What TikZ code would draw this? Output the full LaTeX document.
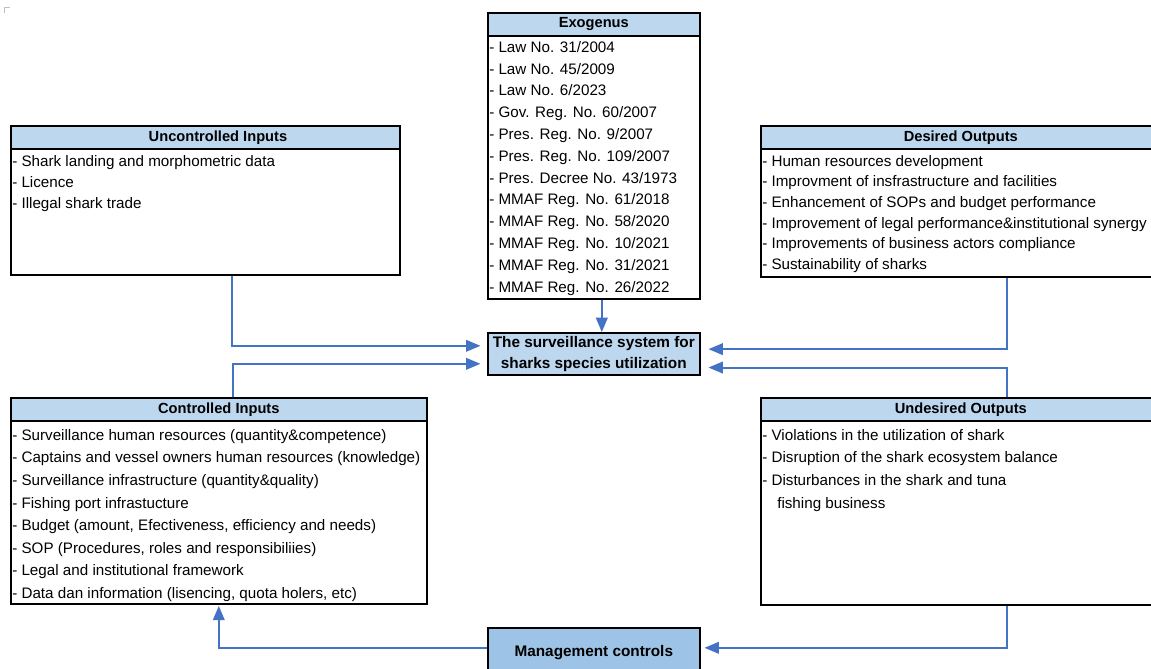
\documentclass[tikz,border=0pt]{standalone}
\usepackage{fontspec}
\setmainfont{Liberation Sans}
\usetikzlibrary{arrows, calc, positioning}

\definecolor{headblue}{HTML}{BDD7EE}
\definecolor{coreblue}{HTML}{BDD7EE}
\definecolor{ctrlblue}{HTML}{9DC3E6}
\definecolor{flowblue}{HTML}{4472C4}

\tikzset{
  box/.style={draw, line width=1.2pt, anchor=north west, inner sep=0pt},
  head/.style={draw, line width=1.2pt, fill=headblue, anchor=north west, inner sep=0pt,
    minimum height=17.25pt, font=\fontsize{11}{12}\selectfont\bfseries},
  items/.style={anchor=north west, align=left, inner sep=0pt},
  flow/.style={->, draw=flowblue, line width=1.5pt},
}

\begin{document}
\begin{tikzpicture}[x=0.75pt, y=-0.75pt, >=triangle 45]
		\useasboundingbox (0,0) rectangle (1151,668);
		\clip (0,0) rectangle (1151,668);
		\draw[gray!50, line width=0.5pt] (4,13) -- (4,7) -- (10,7);

		% exogenus
		\node[box, minimum width=159pt, minimum height=214.5pt] (exo) at (487,12) {};
		\node[head, minimum width=159pt] (exoH) at (exo.north west) {Exogenus};
		\node[items, font=\fontsize{11.4}{16.35}\selectfont] (exoL) at (489,41) {- Law No. 31/2004\\- Law No. 45/2009\\- Law No. 6/2023\\- Gov. Reg. No. 60/2007\\- Pres. Reg. No. 9/2007\\- Pres. Reg. No. 109/2007\\- Pres. Decree No. 43/1973\\- MMAF Reg. No. 61/2018\\- MMAF Reg. No. 58/2020\\- MMAF Reg. No. 10/2021\\- MMAF Reg. No. 31/2021\\- MMAF Reg. No. 26/2022};

		% uncontrolled inputs
		\node[box, minimum width=291.75pt, minimum height=111.75pt] (uin) at (10,125) {};
		\node[head, minimum width=291.75pt] (uinH) at (uin.north west) {\hspace*{19pt}Uncontrolled Inputs};
		\node[items, font=\fontsize{11.4}{15.75}\selectfont] (uinL) at (12,155) {- Shark landing and morphometric data\\- Licence\\- Illegal shark trade};

		% desired outputs
		\node[box, minimum width=300pt, minimum height=113.25pt] (dout) at (760,125) {};
		\node[head, minimum width=300pt] (doutH) at (dout.north west) {Desired Outputs};
		\node[items, font=\fontsize{11.4}{15.45}\selectfont] (doutL) at (762,155) {- Human resources development\\- Improvment of insfrastructure and facilities\\- Enhancement of SOPs and budget performance\\- Improvement of legal performance\&institutional synergy\\- Improvements of business actors compliance\\- Sustainability of sharks};

		% the system
		\node[box, fill=coreblue, minimum width=159pt, minimum height=31.5pt, align=center,
		  font=\fontsize{11.5}{15.75}\selectfont\bfseries] (core) at (487,332) {The surveillance system for\\sharks species utilization};

		% controlled inputs
		\node[box, minimum width=312pt, minimum height=154.5pt] (cin) at (10,397) {};
		\node[head, minimum width=312pt] (cinH) at (cin.north west) {Controlled Inputs};
		\node[items, font=\fontsize{11.4}{16.95}\selectfont] (cinL) at (12,429) {- Surveillance human resources (quantity\&competence)\\- Captains and vessel owners human resources (knowledge)\\- Surveillance infrastructure (quantity\&quality)\\- Fishing port infrastucture\\- Budget (amount, Efectiveness, efficiency and needs)\\- SOP (Procedures, roles and responsibiliies)\\- Legal and institutional framework\\- Data dan information (lisencing, quota holers, etc)};

		% undesired outputs
		\node[box, minimum width=300pt, minimum height=155.25pt] (uout) at (760,397) {};
		\node[head, minimum width=300pt] (uoutH) at (uout.north west) {Undesired Outputs};
		\node[items, font=\fontsize{11.4}{17}\selectfont] (uoutL) at (762,429) {- Violations in the utilization of shark\\- Disruption of the shark ecosystem balance\\- Disturbances in the shark and tuna\\\hspace*{11.25pt}fishing business};

		% management
		\node[box, fill=ctrlblue, minimum width=159pt, minimum height=37.5pt,
		  font=\fontsize{11.5}{12}\selectfont\bfseries] (mgmt) at (487,627) {Management controls};

		% flows
		\draw[flow] ([xshift=6pt]exo.south) -- ([xshift=6pt]core.north);
		\draw[flow, shorten >=5pt] ([xshift=19.9pt]uin.south) |- ([yshift=6pt]core.west);
		\draw[flow, shorten >=5pt] ([xshift=10.5pt]cin.north) |- ([yshift=-7.5pt]core.west);
		\draw[flow, shorten >=6pt] ([xshift=185.25pt]dout.south west) |- ([yshift=3.5pt]core.east);
		\draw[flow, shorten >=6pt] ([xshift=185.25pt]uout.north west) |- ([yshift=-10.3pt]core.east);
		\draw[flow, shorten >=3pt] ([xshift=185.25pt]uout.south west) |- ([yshift=3.75pt]mgmt.east);
		\draw[flow, shorten >=1pt] ([yshift=3.75pt]mgmt.west) -| (cin.south);
	\end{tikzpicture}
\end{document}
